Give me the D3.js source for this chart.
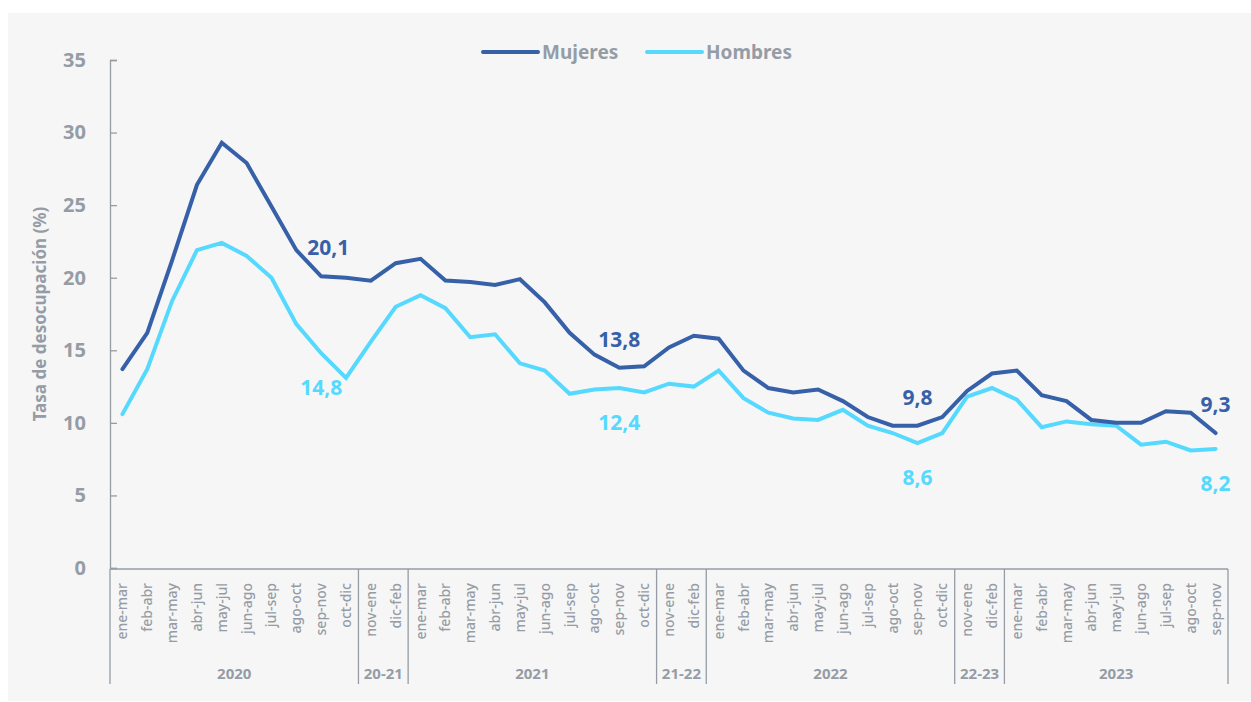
<!DOCTYPE html>
<html>
<head>
<meta charset="utf-8">
<script src="https://cdn.jsdelivr.net/npm/d3@7"></script>
<style>
  body { margin: 0; background: #fff; }
  text { font-family: "Noto Sans", "Open Sans", sans-serif; }
</style>
</head>
<body>
<svg id="chart" width="1251" height="702"></svg>
<script>
// periodos moviles trimestrales
const periods = [
  "ene-mar","feb-abr","mar-may","abr-jun","may-jul","jun-ago","jul-sep","ago-oct","sep-nov","oct-dic",
  "nov-ene","dic-feb",
  "ene-mar","feb-abr","mar-may","abr-jun","may-jul","jun-ago","jul-sep","ago-oct","sep-nov","oct-dic",
  "nov-ene","dic-feb",
  "ene-mar","feb-abr","mar-may","abr-jun","may-jul","jun-ago","jul-sep","ago-oct","sep-nov","oct-dic",
  "nov-ene","dic-feb",
  "ene-mar","feb-abr","mar-may","abr-jun","may-jul","jun-ago","jul-sep","ago-oct","sep-nov"
];
const groups = ["2020","20-21","2021","21-22","2022","22-23","2023"];
const groupSizes = [10, 2, 10, 2, 10, 2, 9];

const mujeres = [
  13.7, 16.2, 21.2, 26.4, 29.3, 27.9, 24.9, 21.9, 20.1, 20.0,
  19.8, 21.0,
  21.3, 19.8, 19.7, 19.5, 19.9, 18.3, 16.2, 14.7, 13.8, 13.9,
  15.2, 16.0,
  15.8, 13.6, 12.4, 12.1, 12.3, 11.5, 10.4, 9.8, 9.8, 10.4,
  12.2, 13.4,
  13.6, 11.9, 11.5, 10.2, 10.0, 10.0, 10.8, 10.7, 9.3
];
const hombres = [
  10.6, 13.7, 18.4, 21.9, 22.4, 21.5, 20.0, 16.8, 14.8, 13.1,
  15.6, 18.0,
  18.8, 17.9, 15.9, 16.1, 14.1, 13.6, 12.0, 12.3, 12.4, 12.1,
  12.7, 12.5,
  13.6, 11.7, 10.7, 10.3, 10.2, 10.9, 9.8, 9.3, 8.6, 9.3,
  11.8, 12.4,
  11.6, 9.7, 10.1, 9.9, 9.8, 8.5, 8.7, 8.1, 8.2
];
const labelIdx = [8, 20, 32, 44];
const yTicks = [0, 5, 10, 15, 20, 25, 30, 35];

const colM = "#3660a8", colH = "#55d9fe", grey = "#959ca5";

const svg = d3.select("#chart");
svg.append("rect").attr("x", 8).attr("y", 13).attr("width", 1243).attr("height", 688).attr("fill", "#f6f6f6");

const m = { left: 110, right: 1228, top: 60, bottom: 568 };
const x = d3.scaleBand().domain(d3.range(periods.length)).range([m.left, m.right]);
const y = d3.scaleLinear().domain([0, 35]).range([m.bottom, m.top]);
const cx = i => x(i) + x.bandwidth() / 2;

// eje y
const yAxis = d3.axisLeft(y).tickValues(yTicks).tickSize(-7).tickPadding(24);
const gy = svg.append("g").attr("transform", `translate(${m.left},0)`).call(yAxis);
gy.select(".domain").attr("stroke", grey).attr("stroke-width", 1.3);
gy.selectAll(".tick line").attr("stroke", grey).attr("stroke-width", 1.3);
gy.selectAll(".tick text").attr("fill", grey).attr("font-size", 20).attr("font-weight", 700)
  .attr("font-family", "'Noto Sans', sans-serif");

svg.append("text")
  .attr("transform", `translate(46,${(m.top + m.bottom) / 2}) rotate(-90)`)
  .attr("text-anchor", "middle")
  .attr("fill", grey).attr("font-size", 17).attr("font-weight", 700)
  .text("Tasa de desocupación (%)");

// eje x
svg.append("line").attr("x1", m.left).attr("x2", m.right).attr("y1", m.bottom + 1).attr("y2", m.bottom + 1)
  .attr("stroke", grey).attr("stroke-width", 1.3);

svg.append("g").selectAll("text").data(periods).join("text")
  .attr("transform", (d, i) => `translate(${cx(i) + 5},583) rotate(-90)`)
  .attr("text-anchor", "end")
  .attr("fill", grey).attr("font-size", 14).attr("font-weight", 500)
  .text(d => d);

let acc = 0;
const bounds = [0];
groupSizes.forEach(n => { acc += n; bounds.push(acc); });
const bx = d => d < periods.length ? x(d) : m.right;
svg.append("g").selectAll("line").data(bounds).join("line")
  .attr("x1", bx).attr("x2", bx)
  .attr("y1", m.bottom + 1).attr("y2", 684)
  .attr("stroke", grey).attr("stroke-width", 1.3);

svg.append("g").selectAll("text").data(groups).join("text")
  .attr("x", (d, i) => (bx(bounds[i]) + bx(bounds[i + 1])) / 2)
  .attr("y", 679)
  .attr("text-anchor", "middle")
  .attr("fill", grey).attr("font-size", 15).attr("font-weight", 700)
  .text(d => d);

// lineas
const line = d3.line().x((d, i) => cx(i)).y(d => y(d));
[[hombres, colH], [mujeres, colM]].forEach(([s, c]) => {
  svg.append("path").datum(s).attr("d", line)
    .attr("fill", "none").attr("stroke", c).attr("stroke-width", 4)
    .attr("stroke-linejoin", "miter").attr("stroke-linecap", "round");
});

// etiquetas
const fmt = v => d3.format(".1f")(v).replace(".", ",");
svg.append("g").selectAll("text").data(labelIdx).join("text")
  .attr("x", i => cx(i) + (i === 8 ? 7 : 0))
  .attr("y", i => y(mujeres[i]) - 21)
  .attr("text-anchor", "middle")
  .attr("fill", colM).attr("font-size", 21).attr("font-weight", 700)
  .text(i => fmt(mujeres[i]));
svg.append("g").selectAll("text").data(labelIdx).join("text")
  .attr("x", i => cx(i))
  .attr("y", i => y(hombres[i]) + 42)
  .attr("text-anchor", "middle")
  .attr("fill", colH).attr("font-size", 21).attr("font-weight", 700)
  .text(i => fmt(hombres[i]));

// leyenda
const legend = [["Mujeres", colM, 483], ["Hombres", colH, 647]];
legend.forEach(([name, c, lx]) => {
  svg.append("line").attr("x1", lx).attr("x2", lx + 55).attr("y1", 52).attr("y2", 52)
    .attr("stroke", c).attr("stroke-width", 4).attr("stroke-linecap", "round");
  svg.append("text").attr("x", lx + 59).attr("y", 59)
    .attr("fill", grey).attr("font-size", 19).attr("font-weight", 700).text(name);
});
</script>
</body>
</html>
